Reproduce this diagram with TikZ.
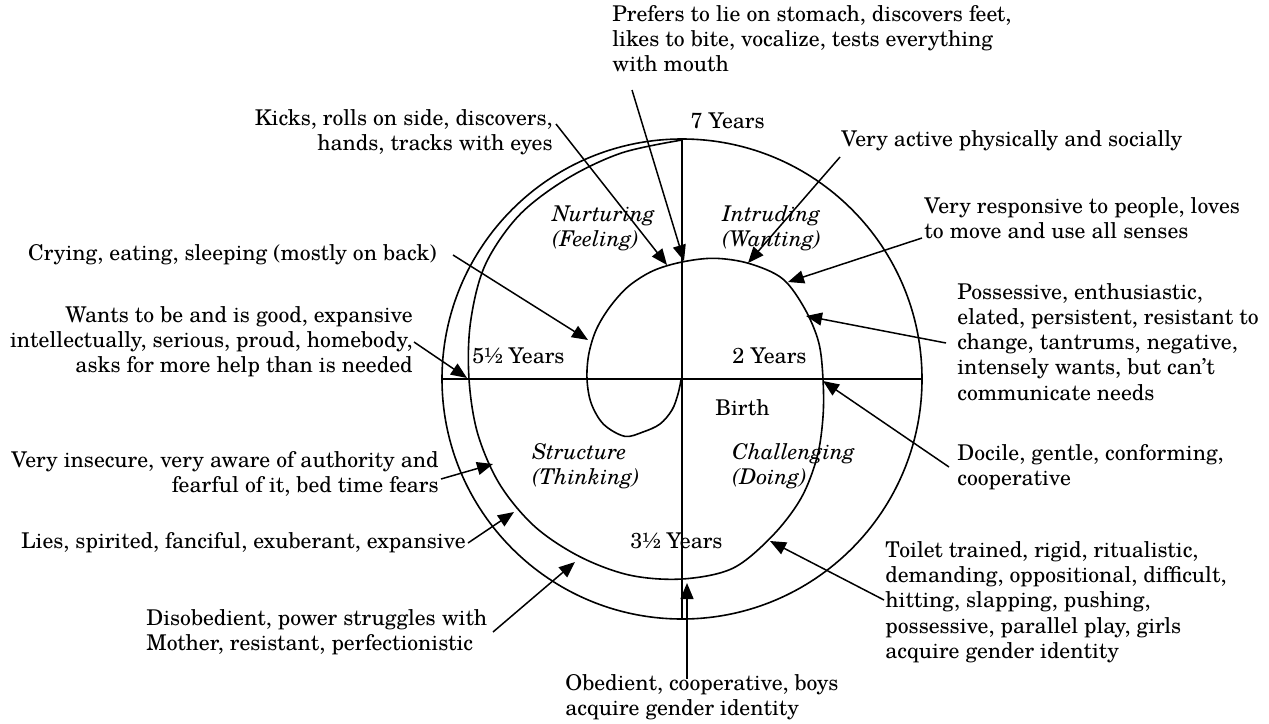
\documentclass[tikz,border=0pt]{standalone}
\usepackage{fontspec}
\setmainfont{TeX Gyre Schola}
\usetikzlibrary{arrows.meta}
\begin{document}
\begin{tikzpicture}[x=0.5pt,y=-0.5pt,
  ring/.style={line width=0.8pt},
  arr/.style={line width=0.75pt,-{Triangle[length=8pt,width=6.5pt]}},
  lbl/.style={inner sep=0pt,font=\fontsize{10.85}{12.6}\selectfont},
  itl/.style={inner sep=0pt,font=\fontsize{10.85}{12.6}\selectfont\itshape}]
\useasboundingbox (0,0) rectangle (1269,723);
% frame
\coordinate (C) at (682,379);
\coordinate (W) at (442,379);
\coordinate (E) at (922,379);
\coordinate (N) at (682,139);
\coordinate (S) at (682,619);
\draw[ring] (C) circle (120pt);
\draw[ring] (W) -- (E);
\draw[ring] (N) -- (S);
% spiral
\draw[ring] plot[smooth,tension=0.55] coordinates {
(681,380) (678,394) (672,410) (660,424) (643,432) (624.7,436.3)
(603.6,424.3) (591.2,403.3) (587,379) (588.8,354) (596.3,329.5)
(609.9,306.9) (628.5,286.3) (653,270.8) (682,262) (714.4,258.3)
(748.8,263.4) (782.4,278.6) (804.5,308.3) (818.7,342.4) (823,379)
(823,416.8) (817.1,457) (801.1,498.1) (772.5,535.7) (732.7,568.3)
(682,579) (629.5,575.1) (579.5,556.5) (534.6,526.4) (499.7,484.3)
(477.7,433.7) (469,379) (470.5,322.3) (485,265.3) (518.7,215.7)
(566.5,179) (621.4,153) (682,140)};
% inner labels
\node[lbl,anchor=base east] (y7) at (765,128) {7 Years};
\node[lbl,anchor=base west] (y55) at (472,363) {5½ Years};
\node[lbl,anchor=base west] (y2) at (732,363) {2 Years};
\node[lbl,anchor=base west] (birth) at (715,415) {Birth};
\node[lbl,anchor=base west] (y35) at (630,548) {3½ Years};
\node[itl,anchor=north west,align=left] (nurt) at (552,205) {Nurturing\\(Feeling)};
\node[itl,anchor=north west,align=left] (intr) at (722,205) {Intruding\\(Wanting)};
\node[itl,anchor=north west,align=left] (struc) at (532,443) {Structure\\(Thinking)};
\node[itl,anchor=north west,align=left] (chal) at (732,443) {Challenging\\(Doing)};
% outer texts
\node[lbl,anchor=north west,align=left] (tPref) at (612,5) {Prefers to lie on stomach, discovers feet,\\likes to bite, vocalize, tests everything\\with mouth};
\node[lbl,anchor=north east,align=right] (tKick) at (553,109) {Kicks, rolls on side, discovers,\\hands, tracks with eyes};
\node[lbl,anchor=base west] (tAct) at (841,146) {Very active physically and socially};
\node[lbl,anchor=north west,align=left] (tResp) at (924,197) {Very responsive to people, loves\\to move and use all senses};
\node[lbl,anchor=north west,align=left] (tPoss) at (957,283) {Possessive, enthusiastic,\\elated, persistent, resistant to\\change, tantrums, negative,\\intensely wants, but can’t\\communicate needs};
\node[lbl,anchor=north west,align=left] (tDoc) at (957,444) {Docile, gentle, conforming,\\cooperative};
\node[lbl,anchor=north west,align=left] (tToil) at (885,541) {Toilet trained, rigid, ritualistic,\\demanding, oppositional, difficult,\\hitting, slapping, pushing,\\possessive, parallel play, girls\\acquire gender identity};
\node[lbl,anchor=north west,align=left] (tObed) at (565,674) {Obedient, cooperative, boys\\acquire gender identity};
\node[lbl,anchor=north west,align=left] (tDis) at (146,609) {Disobedient, power struggles with\\Mother, resistant, perfectionistic};
\node[lbl,anchor=base east] (tLies) at (466,548) {Lies, spirited, fanciful, exuberant, expansive};
\node[lbl,anchor=north east,align=right] (tIns) at (439,451) {Very insecure, very aware of authority and\\fearful of it, bed time fears};
\node[lbl,anchor=north east,align=right] (tWant) at (413,306) {Wants to be and is good, expansive\\intellectually, serious, proud, homebody,\\asks for more help than is needed};
\node[lbl,anchor=base east] (tCry) at (437,260) {Crying, eating, sleeping (mostly on back)};
% arrow ends
\coordinate (sKick) at (556,124);  \coordinate (eKick) at (667,265);
\coordinate (sPref) at (632,90);   \coordinate (ePref) at (684,261);
\coordinate (sAct) at (840,157);   \coordinate (eAct) at (748,263);
\coordinate (sResp) at (922,238);  \coordinate (eResp) at (788,282);
\coordinate (sPoss) at (946,343);  \coordinate (ePoss) at (806,316);
\coordinate (sDoc) at (949,467);   \coordinate (eDoc) at (823,381);
\coordinate (sToil) at (884,600);  \coordinate (eToil) at (770,541);
\coordinate (sObed) at (687,679);  \coordinate (eObed) at (687,583);
\coordinate (sDis) at (493,632);   \coordinate (eDis) at (575,562);
\coordinate (sLies) at (468,543);  \coordinate (eLies) at (514,512);
\coordinate (sIns) at (441,479);   \coordinate (eIns) at (493,464);
\coordinate (sWant) at (414,342);  \coordinate (eWant) at (467,378);
\coordinate (sCry) at (453,255);   \coordinate (eCry) at (588,340);
\foreach \n in {Kick,Pref,Act,Resp,Poss,Doc,Toil,Obed,Dis,Lies,Ins,Want,Cry}
  \draw[arr] (s\n) -- (e\n);
\end{tikzpicture}
\end{document}
